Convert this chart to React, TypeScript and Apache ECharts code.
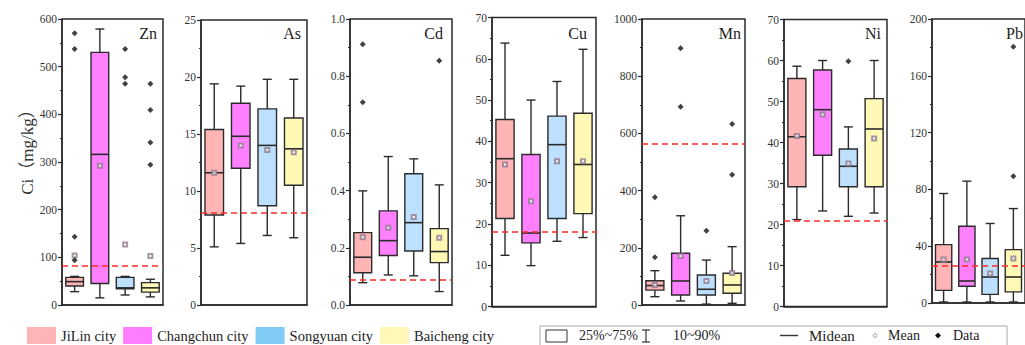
import React, { useEffect, useRef } from 'react';
import * as echarts from 'echarts';

const cities = ['JiLin city', 'Changchun city', 'Songyuan city', 'Baicheng city'];
const elements = ['Zn', 'As', 'Cd', 'Cu', 'Mn', 'Ni', 'Pb'];
const axisMax = [600, 25, 1, 70, 1000, 70, 200];
const axisInterval = [100, 5, 0.2, 10, 200, 10, 40];
const backgroundValues = [82, 8.1, 0.094, 18, 563, 20.8, 26];

// per city: [10%, 25%, median, 75%, 90%]
const znBoxes = [
  [28, 40, 49, 58, 60],
  [15, 45, 316, 530, 579],
  [21, 34, 36, 58, 60],
  [17, 27, 36, 47, 54],
];
const asBoxes = [
  [5.1, 7.9, 11.6, 15.4, 19.4],
  [5.4, 12.0, 14.8, 17.7, 19.2],
  [6.1, 8.7, 14.0, 17.2, 19.8],
  [5.9, 10.5, 13.7, 16.4, 19.8],
];
const cdBoxes = [
  [0.078, 0.113, 0.167, 0.253, 0.399],
  [0.105, 0.173, 0.225, 0.329, 0.519],
  [0.102, 0.189, 0.288, 0.459, 0.511],
  [0.047, 0.148, 0.187, 0.267, 0.42],
];
const cuBoxes = [
  [12.4, 21.3, 35.8, 45.3, 63.8],
  [9.9, 15.4, 17.8, 36.8, 50.0],
  [15.8, 21.3, 39.2, 46.1, 54.5],
  [16.7, 22.5, 34.4, 46.8, 62.3],
];
const mnBoxes = [
  [29, 52, 68, 85, 120],
  [14, 35, 84, 181, 312],
  [3, 35, 55, 105, 157],
  [6, 41, 70, 111, 204],
];
const niBoxes = [
  [21.2, 29.2, 41.4, 55.6, 58.6],
  [23.3, 36.9, 48.0, 57.7, 60.0],
  [22.0, 29.2, 34.2, 38.4, 43.8],
  [22.8, 29.2, 43.3, 50.7, 60.0],
];
const pbBoxes = [
  [0.7, 8.9, 28.9, 41.1, 77.1],
  [0.7, 11.8, 15.5, 54.0, 85.8],
  [0.7, 6.1, 18.3, 31.3, 56.0],
  [0.7, 7.8, 18.3, 37.6, 66.5],
];

const znMeans = [104, 292, 127, 103];
const asMeans = [11.6, 14.0, 13.6, 13.4];
const cdMeans = [0.237, 0.27, 0.308, 0.235];
const cuMeans = [34.4, 25.5, 35.2, 35.2];
const mnMeans = [70, 171, 84, 112];
const niMeans = [41.6, 46.8, 34.9, 41.0];
const pbMeans = [30.6, 30.6, 20.7, 31.3];

// [cityIndex, value]
const znOutliers = [[0, 570], [0, 537], [0, 143], [0, 94], [2, 537], [2, 478], [2, 464], [3, 464], [3, 409], [3, 341], [3, 294]];
const asOutliers: number[][] = [];
const cdOutliers = [[0, 0.912], [0, 0.709], [3, 0.854]];
const cuOutliers: number[][] = [];
const mnOutliers = [[0, 377], [0, 167], [1, 898], [1, 693], [2, 260], [3, 633], [3, 455]];
const niOutliers = [[2, 59.8]];
const pbOutliers = [[3, 180.5], [3, 89.3]];

const boxSets = [znBoxes, asBoxes, cdBoxes, cuBoxes, mnBoxes, niBoxes, pbBoxes];
const meanSets = [znMeans, asMeans, cdMeans, cuMeans, mnMeans, niMeans, pbMeans];
const outlierSets = [znOutliers, asOutliers, cdOutliers, cuOutliers, mnOutliers, niOutliers, pbOutliers];

const boxColors = ['#FFB5B6', '#FF80FF', '#BDE0FF', '#FFF9B5'];
const legendColors = ['#FFB5B8', '#FF7DFF', '#80CCF4', '#FFF8B8'];

const panels = [
  { left: 62, top: 19, width: 101, height: 286, titleRight: 157 },
  { left: 201, top: 20, width: 106, height: 285, titleRight: 301 },
  { left: 350, top: 19, width: 102, height: 286, titleRight: 443 },
  { left: 492, top: 17.5, width: 104, height: 289, titleRight: 587 },
  { left: 642, top: 19, width: 103, height: 286, titleRight: 741 },
  { left: 784, top: 19.5, width: 103, height: 287, titleRight: 881 },
  { left: 932, top: 19, width: 104, height: 284, titleRight: 1023 },
];

const SERIF = '"Liberation Serif", "DejaVu Serif", "Noto Sans CJK SC", serif';
const INK = '#2b2b2b';

function buildOption() {
  const grid: any[] = [];
  const xAxis: any[] = [];
  const yAxis: any[] = [];
  const series: any[] = [];
  const title: any[] = [];

  elements.forEach((el, p) => {
    const g = panels[p];
    grid.push({
      left: g.left, top: g.top, width: g.width, height: g.height,
      show: true, borderColor: INK, borderWidth: 1.5, backgroundColor: 'transparent',
    });
    xAxis.push({
      type: 'category', gridIndex: p, data: cities,
      axisLine: { lineStyle: { color: INK, width: 1.5 } },
      axisTick: { inside: true, alignWithLabel: true, length: 4, lineStyle: { color: INK, width: 1.2 } },
      axisLabel: { show: false },
      splitLine: { show: false },
    });
    yAxis.push({
      type: 'value', gridIndex: p, min: 0, max: axisMax[p], interval: axisInterval[p],
      axisLine: { show: true, lineStyle: { color: INK, width: 1.5 } },
      axisTick: { show: true, length: 4, lineStyle: { color: INK, width: 1.2 } },
      minorTick: { show: true, splitNumber: 2, length: 2, lineStyle: { color: INK, width: 1 } },
      splitLine: { show: false },
      axisLabel: {
        fontFamily: SERIF, fontSize: 11.5, color: '#333', margin: 5,
        formatter: (v: number) => (axisMax[p] === 1 ? v.toFixed(1) : String(Math.round(v))),
      },
    });
    title.push({
      text: el,
      right: 1025 - g.titleRight,
      top: 25, padding: 0,
      textStyle: { fontFamily: SERIF, fontSize: 16, fontWeight: 'normal', color: '#222', lineHeight: 16 },
    });

    cities.forEach((city, c) => {
      const b = boxSets[p][c];
      series.push({
        type: 'custom', name: city, xAxisIndex: p, yAxisIndex: p,
        itemStyle: { color: legendColors[c] },
        data: [[c, b[0], b[1], b[2], b[3], b[4]]],
        encode: { x: 0, y: [1, 2, 3, 4, 5] },
        z: 2,
        renderItem: (params: any, api: any) => {
          const x = api.value(0);
          const lo = api.coord([x, api.value(1)]);
          const q1 = api.coord([x, api.value(2)]);
          const md = api.coord([x, api.value(3)]);
          const q3 = api.coord([x, api.value(4)]);
          const hi = api.coord([x, api.value(5)]);
          const bw = api.size([1, 0])[0] * 0.7;
          const cap = 9;
          const cx = lo[0];
          const st = { stroke: INK, lineWidth: 1.4 };
          return {
            type: 'group',
            children: [
              { type: 'line', shape: { x1: cx, y1: hi[1], x2: cx, y2: q3[1] }, style: st },
              { type: 'line', shape: { x1: cx, y1: q1[1], x2: cx, y2: lo[1] }, style: st },
              { type: 'line', shape: { x1: cx - cap / 2, y1: hi[1], x2: cx + cap / 2, y2: hi[1] }, style: st },
              { type: 'line', shape: { x1: cx - cap / 2, y1: lo[1], x2: cx + cap / 2, y2: lo[1] }, style: st },
              { type: 'rect', shape: { x: cx - bw / 2, y: q3[1], width: bw, height: q1[1] - q3[1] }, style: { fill: boxColors[c], stroke: INK, lineWidth: 1.4 } },
              { type: 'line', shape: { x1: cx - bw / 2, y1: md[1], x2: cx + bw / 2, y2: md[1] }, style: { stroke: INK, lineWidth: 1.6 } },
            ],
          };
        },
      });
    });

    series.push({
      type: 'scatter', name: 'Mean', xAxisIndex: p, yAxisIndex: p,
      data: meanSets[p].map((v, i) => [i, v]),
      symbol: 'emptyRect', symbolSize: 4,
      itemStyle: { color: '#8f7a8f', borderWidth: 0.9 },
      z: 5,
      markLine: {
        silent: true, symbol: 'none', animation: false,
        label: { show: false },
        lineStyle: { color: '#ff2a2a', type: [6, 4], width: 1.6 },
        data: [{ yAxis: backgroundValues[p] }],
        z: 6,
      },
    });
    series.push({
      type: 'scatter', name: 'Data', xAxisIndex: p, yAxisIndex: p,
      data: outlierSets[p],
      symbol: 'diamond', symbolSize: 6,
      itemStyle: { color: '#111' },
      z: 5,
    });
  });

  const ty = 335.5;
  const font = `14px ${SERIF}`;
  const graphic: any[] = [
    {
      type: 'text', x: 27, y: 148, rotation: Math.PI / 2,
      style: { text: 'Ci（mg/kg）', font: `17px ${SERIF}`, fill: '#333', textAlign: 'center', textVerticalAlign: 'middle' },
    },
    { type: 'rect', shape: { x: 540, y: 326, width: 467, height: 40 }, style: { fill: 'none', stroke: '#aaa', lineWidth: 1 } },
    { type: 'rect', shape: { x: 546, y: 330, width: 21, height: 12 }, style: { fill: '#fff', stroke: '#333', lineWidth: 1 } },
    { type: 'text', x: 579, y: ty, style: { text: '25%~75%', font, fill: '#222', textVerticalAlign: 'middle' } },
    { type: 'line', shape: { x1: 646, y1: 330, x2: 646, y2: 342 }, style: { stroke: '#333', lineWidth: 1.2 } },
    { type: 'line', shape: { x1: 642, y1: 330, x2: 650, y2: 330 }, style: { stroke: '#333', lineWidth: 1.2 } },
    { type: 'line', shape: { x1: 642, y1: 342, x2: 650, y2: 342 }, style: { stroke: '#333', lineWidth: 1.2 } },
    { type: 'text', x: 673, y: ty, style: { text: '10~90%', font, fill: '#222', textVerticalAlign: 'middle' } },
    { type: 'line', shape: { x1: 780, y1: ty, x2: 798, y2: ty }, style: { stroke: '#333', lineWidth: 1.4 } },
    { type: 'text', x: 809, y: ty, style: { text: 'Midean', font: `15px ${SERIF}`, fill: '#222', textVerticalAlign: 'middle' } },
    { type: 'circle', shape: { cx: 875, cy: ty, r: 1.8 }, style: { fill: 'none', stroke: '#999', lineWidth: 1 } },
    { type: 'text', x: 888, y: ty, style: { text: 'Mean', font, fill: '#222', textVerticalAlign: 'middle' } },
    { type: 'polygon', shape: { points: [[938, ty - 3], [941, ty], [938, ty + 3], [935, ty]] }, style: { fill: '#111' } },
    { type: 'text', x: 953, y: ty, style: { text: 'Data', font, fill: '#222', textVerticalAlign: 'middle' } },
  ];

  return {
    animation: false,
    backgroundColor: '#fff',
    title,
    grid,
    xAxis,
    yAxis,
    series,
    graphic,
    legend: {
      left: 27, top: 327, padding: 0,
      itemWidth: 29, itemHeight: 17, itemGap: 7,
      icon: 'rect',
      selectedMode: false,
      textStyle: { fontFamily: SERIF, fontSize: 14.5, color: '#222' },
      data: cities.map((c, i) => ({ name: c, itemStyle: { color: legendColors[i] } })),
    },
  };
}

export default function App() {
  const ref = useRef<HTMLDivElement>(null);
  useEffect(() => {
    document.body.style.margin = '0';
    if (!ref.current) return;
    const chart = echarts.init(ref.current, null, { renderer: 'svg' });
    chart.setOption(buildOption() as any);
    return () => chart.dispose();
  }, []);
  return <div ref={ref} style={{ width: 1025, height: 345 }} />;
}
